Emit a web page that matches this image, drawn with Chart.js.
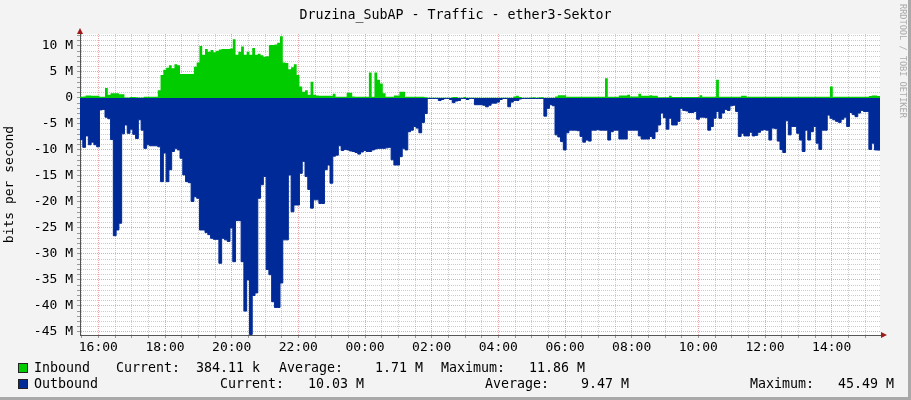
<!DOCTYPE html>
<html lang="en">
<head>
    <meta charset="UTF-8">
    <title>Druzina_SubAP - Traffic - ether3-Sektor</title>
    <script src="https://cdn.jsdelivr.net/npm/chart.js"></script>
    <style>
        body { margin: 0; background: #f3f3f3; }
        .wrap { position: relative; width: 911px; height: 400px; font-family: "DejaVu Sans Mono", monospace; }
        canvas { position: absolute; left: 0; top: 0; }
        .title { position: absolute; left: 0; top: 7px; width: 911px; text-align: center; font-size: 13.3px; line-height: 16px; color: #000; }
        .row { position: absolute; left: 0; width: 911px; height: 16px; font-size: 13.3px; line-height: 16px; white-space: pre; color: #000; }
        .row span { position: absolute; top: 0; }
        .box { position: absolute; left: 18px; top: 3px; width: 8px; height: 8px; border: 1px solid #222; }
        .credit { position: absolute; left: 898px; top: 4px; writing-mode: vertical-rl; font-size: 8.6px; line-height: 10px; color: #aaa; }
    </style>
</head>
<body>
<div class="wrap">
    <canvas id="traffic" width="911" height="400"></canvas>
    <div class="title">Druzina_SubAP - Traffic - ether3-Sektor</div>
    <div class="credit">RRDTOOL / TOBI OETIKER</div>
    <div class="row" style="top:360px">
        <div class="box" style="background:#00cc00"></div>
        <span style="left:34px">Inbound</span>
        <span style="left:116px">Current:  384.11 k</span>
        <span style="left:279px">Average:    1.71 M</span>
        <span style="left:441px">Maximum:   11.86 M</span>
    </div>
    <div class="row" style="top:376px">
        <div class="box" style="background:#002a97"></div>
        <span style="left:34px">Outbound</span>
        <span style="left:220px">Current:   10.03 M</span>
        <span style="left:485px">Average:    9.47 M</span>
        <span style="left:750px">Maximum:   45.49 M</span>
    </div>
</div>

<script>
    // x axis: minutes after 16:00, one sample every 5 minutes
    const tickLabels = ['16:00', '18:00', '20:00', '22:00', '00:00', '02:00',
                        '04:00', '06:00', '08:00', '10:00', '12:00', '14:00'];
    const startMinute = -33;
    const stepMinutes = 5;

    // Mbit/s, one row per hour
    const inbound = [
        0.25, 0.3, 0.45, 0.45, 0.4, 0.4, 0.4, 0.25, 0.25, 1.9, 0.6, 0.9,
        0.9, 0.9, 0.7, 0.7, 0.1, 0.1, 0.2, 0.2, 0.15, 0.1, 0.1, 0.25,
        0.25, 0.25, 0.25, 0.25, 1.5, 4.4, 5.4, 5.8, 6.3, 5.7, 6.5, 6.3,
        4.6, 4.6, 4.6, 4.6, 4.6, 6, 6.8, 10, 8.3, 9.4, 8.9, 9.2,
        8.8, 9.1, 9.3, 9.4, 9.4, 9.4, 9.5, 11.3, 8.3, 8.9, 9.9, 8.3,
        8.9, 8.3, 9.6, 8.3, 8.5, 8.2, 7.9, 8, 10.2, 10.2, 10.3, 10.6,
        11.86, 6.8, 6.7, 5.5, 5.9, 6.5, 4.4, 2.2, 1.2, 1.5, 0.6, 3.1,
        0.6, 0.45, 0.4, 0.4, 0.4, 0.4, 0.4, 0.8, 0.25, 0.25, 0.25, 0.25,
        1, 1, 0.3, 0.25, 0.25, 0.25, 0.25, 0.25, 4.9, 0.25, 4.9, 3.5,
        2.8, 0.9, 0.25, 0.25, 0.25, 0.45, 0.45, 1.2, 1.2, 0.25, 0.25, 0.25,
        0.25, 0.25, 0.25, 0.25, 0.15, 0.05, 0.05, 0.05, 0.05, 0.05, 0.05, 0.05,
        0.05, 0.05, 0.2, 0.2, 0.05, 0.05, 0.2, 0.05, 0.05, 0.05, 0.05, 0.05,
        0.05, 0.05, 0.05, 0.05, 0.05, 0.05, 0.05, 0.05, 0.05, 0.05, 0.05, 0.05,
        0.3, 0.4, 0.2, 0.05, 0.05, 0.05, 0.1, 0.15, 0.05, 0.15, 0.15, 0.05,
        0.05, 0.05, 0.05, 0.3, 0.5, 0.5, 0.5, 0.25, 0.25, 0.25, 0.25, 0.25,
        0.25, 0.25, 0.25, 0.25, 0.25, 0.25, 0.25, 0.25, 0.25, 3.8, 0.25, 0.25,
        0.25, 0.25, 0.45, 0.45, 0.45, 0.6, 0.3, 0.3, 0.3, 0.8, 0.4, 0.4,
        0.4, 0.5, 0.4, 0.4, 0.15, 0.15, 0.15, 0.15, 0.4, 0.2, 0.2, 0.2,
        0.2, 0.2, 0.2, 0.2, 0.2, 0.2, 0.2, 0.5, 0.25, 0.25, 0.25, 0.25,
        0.25, 3.5, 0.25, 0.25, 0.25, 0.25, 0.25, 0.25, 0.25, 0.25, 0.4, 0.4,
        0.25, 0.25, 0.25, 0.25, 0.25, 0.25, 0.25, 0.25, 0.25, 0.25, 0.25, 0.25,
        0.25, 0.25, 0.25, 0.25, 0.25, 0.25, 0.25, 0.25, 0.25, 0.25, 0.25, 0.25,
        0.25, 0.25, 0.25, 0.25, 0.25, 0.25, 2.2, 0.25, 0.25, 0.25, 0.25, 0.25,
        0.25, 0.25, 0.25, 0.25, 0.25, 0.25, 0.25, 0.25, 0.38, 0.45, 0.45, 0.384
    ];
    const outbound = [
        8, 9.5, 7.3, 9, 8.5, 9, 9.4, 2.3, 2.2, 3.7, 4, 8,
        26.5, 25.4, 24.1, 6.9, 5.2, 6.8, 6, 7, 7.8, 4.2, 6.2, 9.7,
        9, 9.2, 9.2, 9.2, 9.4, 16.1, 10.6, 16.1, 13.8, 10.3, 9.7, 10,
        11.6, 14.8, 16.1, 16.3, 19.9, 19, 19.3, 25.4, 25.4, 25.9, 26.3, 27,
        27.2, 27.2, 31.8, 27, 27.3, 27.6, 25, 31.5, 23.6, 23.6, 31.5, 41,
        35, 45.49, 38, 37.5, 19.3, 16.7, 15.1, 33, 34, 39.2, 40.3, 40.3,
        35.6, 27.3, 27.3, 14.8, 21.9, 20.6, 20.6, 14.5, 12.2, 15.1, 17.6, 21.2,
        19.6, 19.6, 20.3, 20.3, 13.8, 12.9, 16.4, 11.2, 11, 9.2, 10.1, 9.9,
        10, 10.2, 10.3, 10.5, 10.8, 10.4, 10.1, 10.3, 10.3, 10, 9.8, 9.7,
        9.7, 9.7, 9.6, 9.5, 11.9, 12.9, 12.9, 11.3, 9.7, 10, 6.5, 6.2,
        5.5, 5.8, 6.7, 4.7, 3, 0.1, 0.1, 0.1, 0.1, 0.5, 0.3, 0.1,
        0.1, 0.3, 0.9, 0.6, 0.5, 0.1, 0.1, 0.3, 0.1, 0.1, 1.3, 1.3,
        1.3, 1.4, 1.7, 1.4, 1, 1, 0.8, 0.3, 0.1, 0.1, 1.7, 0.8,
        0.5, 0.5, 0.2, 0.1, 0.1, 0.1, 0.1, 0.1, 0.1, 0.1, 0.1, 3.5,
        2, 1.3, 1.5, 7.1, 7.5, 8.4, 10, 6.7, 6.2, 6.2, 6.2, 6.3,
        7.4, 8.5, 8.1, 8.3, 6.2, 6.2, 6.1, 6.2, 6.2, 6.2, 8.1, 6.5,
        6.2, 6.2, 7.9, 7.9, 7.9, 6.2, 6.2, 6.2, 6.2, 7.3, 7.9, 7.9,
        7.9, 7.4, 7.8, 6.5, 5.2, 2.9, 3.8, 6, 3.9, 5.2, 5.2, 4.5,
        2, 2.4, 2.5, 2.8, 2.8, 2.6, 4.1, 3.7, 3.7, 3.8, 6.2, 5.5,
        3.9, 2.6, 3.9, 2.9, 2.2, 2.4, 1.5, 1.4, 2.6, 7.4, 6.8, 7.3,
        7.3, 6.6, 7.3, 7.2, 6.6, 6.2, 6.1, 6.2, 8.1, 5.8, 5.9, 8.3,
        9.9, 10.5, 4.4, 7.1, 5.5, 5.5, 6.8, 8.1, 10.3, 6.2, 8.1, 6.5,
        5.5, 8.7, 9.9, 6.2, 6.2, 3.3, 3.9, 4.2, 4.5, 4.7, 4.1, 3.7,
        5.5, 2.8, 3.2, 3.6, 2.9, 2.4, 2.6, 2.6, 9.9, 8.7, 10, 10.03
    ];

    const font = { family: '"DejaVu Sans Mono", monospace', size: 13 };
    const majorGrid = 'rgba(235,70,70,0.5)';
    const minorGrid = 'rgba(120,120,120,0.38)';

    // each sample is held until the next one, like rrdtool steps
    function toPoints(values, sign) {
        const pts = values.map((v, i) => ({ x: startMinute + i * stepMinutes, y: sign * v }));
        pts.push({ x: startMinute + values.length * stepMinutes, y: sign * values[values.length - 1] });
        return pts;
    }

    const frame = {
        id: 'frame',
        beforeDraw(chart) {
            const { ctx, chartArea: a } = chart;
            ctx.save();
            ctx.fillStyle = '#f3f3f3';
            ctx.fillRect(0, 0, chart.width, chart.height);
            ctx.fillStyle = '#ffffff';
            ctx.fillRect(a.left, a.top, a.right - a.left, a.bottom - a.top);
            ctx.fillStyle = '#a9a9a9';
            ctx.fillRect(chart.width - 3, 0, 3, chart.height);
            ctx.fillRect(0, chart.height - 3, chart.width, 3);
            ctx.restore();
        },
        afterDraw(chart) {
            const { ctx, chartArea: a } = chart;
            ctx.save();
            ctx.fillStyle = '#a01818';
            ctx.beginPath();
            ctx.moveTo(a.left - 3, a.top);
            ctx.lineTo(a.left + 3, a.top);
            ctx.lineTo(a.left, a.top - 6);
            ctx.closePath();
            ctx.fill();
            ctx.beginPath();
            ctx.moveTo(a.right + 1, a.bottom - 3);
            ctx.lineTo(a.right + 1, a.bottom + 3);
            ctx.lineTo(a.right + 7, a.bottom);
            ctx.closePath();
            ctx.fill();
            ctx.restore();
        }
    };

    new Chart(document.getElementById('traffic'), {
        type: 'line',
        data: {
            datasets: [{
                label: 'Inbound',
                data: toPoints(inbound, 1),
                stepped: 'before',
                fill: 'origin',
                backgroundColor: '#00cc00',
                borderColor: 'transparent',
                borderWidth: 0,
                pointRadius: 0
            }, {
                label: 'Outbound',
                data: toPoints(outbound, -1),
                stepped: 'before',
                fill: 'origin',
                backgroundColor: '#002a97',
                borderColor: '#002a97',
                borderWidth: 1,
                pointRadius: 0
            }]
        },
        options: {
            responsive: false,
            animation: false,
            layout: { padding: { left: 0, right: 31, top: 34, bottom: 0 } },
            plugins: {
                legend: { display: false },
                tooltip: { enabled: false }
            },
            scales: {
                x: {
                    type: 'linear',
                    min: startMinute,
                    max: startMinute + outbound.length * stepMinutes,
                    z: 1,
                    afterFit: s => { s.height = 65; },
                    afterBuildTicks: s => {
                        s.ticks = [];
                        for (let m = -30; m <= 1380; m += 30) s.ticks.push({ value: m });
                    },
                    grid: {
                        color: c => c.tick && c.tick.value % 120 === 0 ? majorGrid : minorGrid,
                        tickColor: '#999',
                        tickLength: 3
                    },
                    border: { color: '#555', dash: [1, 1] },
                    ticks: {
                        autoSkip: false,
                        maxRotation: 0,
                        color: '#000',
                        font: font,
                        padding: 2,
                        callback: v => v % 120 === 0 ? (tickLabels[v / 120] || '') : ''
                    }
                },
                y: {
                    min: -45.6,
                    max: 12.3,
                    z: 1,
                    afterFit: s => { s.width = 80; },
                    afterBuildTicks: s => {
                        s.ticks = [];
                        for (let v = -45; v <= 12; v++) s.ticks.push({ value: v });
                    },
                    grid: {
                        color: c => c.tick && c.tick.value % 5 === 0 ? majorGrid : minorGrid,
                        tickColor: '#999',
                        tickLength: 3
                    },
                    border: { color: '#555', dash: [1, 1] },
                    title: {
                        display: true,
                        text: 'bits per second',
                        color: '#000',
                        font: font,
                        padding: { top: 2, bottom: 0 }
                    },
                    ticks: {
                        autoSkip: false,
                        color: '#000',
                        font: font,
                        padding: 4,
                        callback: v => v % 5 === 0 ? (v === 0 ? '0' : v + ' M') : ''
                    }
                }
            }
        },
        plugins: [frame]
    });
</script>
</body>
</html>
